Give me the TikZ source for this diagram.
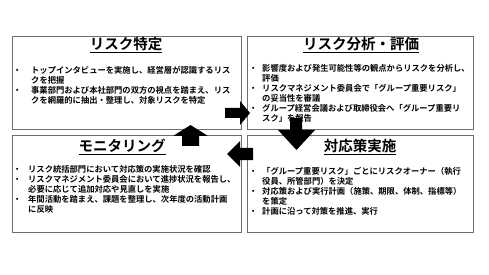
\documentclass[tikz,border=0pt]{standalone}
\usepackage{fontspec}
\newfontfamily\jp{Noto Sans CJK JP}[BoldFont={Noto Sans CJK JP Bold}]
\usepackage{array}
\definecolor{boxline}{RGB}{110,110,110}
\tikzset{
  panel/.style={draw=boxline, line width=0.8pt},
  ttl/.style={font=\jp\bfseries\fontsize{14.5}{16}\selectfont, inner sep=0pt, anchor=center},
  body/.style={font=\jp\bfseries\fontsize{8.3}{9.7}\selectfont, inner sep=0pt, anchor=north west, align=left},
  blk/.style={fill=black, draw=none}
}
\newcommand{\ttltext}[1]{\underline{#1}}
\begin{document}
\begin{tikzpicture}[x=1pt,y=-1pt]
\useasboundingbox (0,0) rectangle (489,275);
% panels
\node[panel, minimum width=229pt, minimum height=93pt, inner sep=0pt] (p1) at (126.5,82.5) {};
\node[panel, minimum width=226pt, minimum height=93pt, inner sep=0pt] (p2) at (360,82.5) {};
\node[panel, minimum width=229pt, minimum height=97pt, inner sep=0pt] (p3) at (126.5,183.5) {};
\node[panel, minimum width=226pt, minimum height=97pt, inner sep=0pt] (p4) at (360,183.5) {};
% titles
\node[ttl] (t1) at (126,45) {\ttltext{リスク特定}};
\node[ttl] (t2) at (361,45) {\ttltext{リスク分析・評価}};
\node[ttl] (t3) at (122,147) {\ttltext{モニタリング}};
\node[ttl] (t4) at (360,147) {\ttltext{対応策実施}};
% bodies
\node[body] (b1) at (13,66) {%
\begin{tabular}{@{}p{18pt}@{}l@{}}
・&トップインタビューを実施し、経営層が認識するリス\\
 &クを把握\\
・&事業部門および本社部門の双方の視点を踏まえ、リス\\
 &クを網羅的に抽出・整理し、対象リスクを特定
\end{tabular}};
\node[body] (b2) at (249,64) {%
\begin{tabular}{@{}p{13pt}@{}l@{}}
・&影響度および発生可能性等の観点からリスクを分析し、\\
 &評価\\
・&リスクマネジメント委員会で「グループ重要リスク」\\
 &の妥当性を審議\\
・&グループ経営会議および取締役会へ「グループ重要リ\\
 &スク」を報告
\end{tabular}};
\node[body] (b3) at (13,165) {%
\begin{tabular}{@{}p{15pt}@{}l@{}}
・&リスク統括部門において対応策の実施状況を確認\\
・&リスクマネジメント委員会において進捗状況を報告し、\\
 &必要に応じて追加対応や見直しを実施\\
・&年間活動を踏まえ、課題を整理し、次年度の活動計画\\
 &に反映
\end{tabular}};
\node[body] (b4) at (249,167) {%
\begin{tabular}{@{}p{13pt}@{}l@{}}
・&「グループ重要リスク」ごとにリスクオーナー（執行\\
 &役員、所管部門）を決定\\
・&対応策および実行計画（施策、期限、体制、指標等）\\
 &を策定\\
・&計画に沿って対策を推進、実行
\end{tabular}};
% block arrows
\fill[blk] (225,108) -- (240,108) -- (240,101) -- (250,113) -- (240,125) -- (240,118) -- (225,118) -- cycle;
\fill[blk] (290,118) -- (302,118) -- (302,130) -- (315,130) -- (296.5,150) -- (278,130) -- (290,130) -- cycle;
\fill[blk] (253,148) -- (240,148) -- (240,141) -- (227,154) -- (240,167) -- (240,160) -- (253,160) -- cycle;
\fill[blk] (182,146) -- (182,136) -- (173,136) -- (190.5,125) -- (208,136) -- (199,136) -- (199,146) -- cycle;
\end{tikzpicture}
\end{document}
